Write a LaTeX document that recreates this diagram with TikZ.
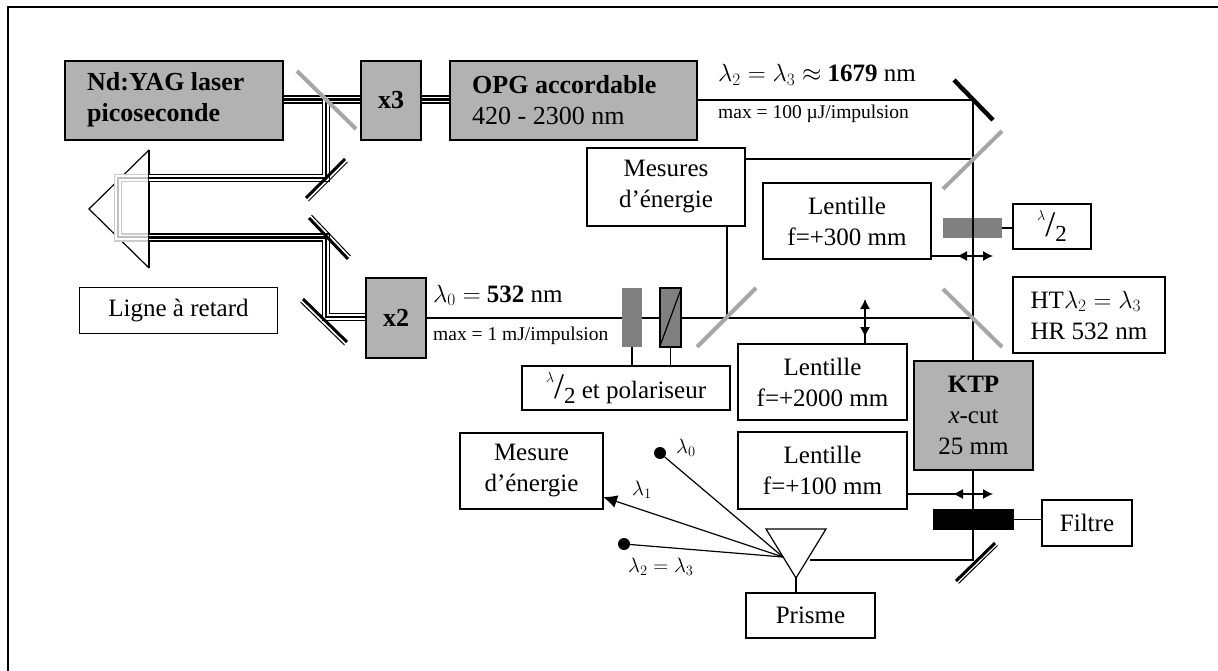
\documentclass[tikz,border=0pt]{standalone}
\usepackage{fontspec}
\setmainfont{Liberation Serif}
\usepackage{tikz}
\usetikzlibrary{arrows.meta}
\newcommand{\lamhalf}{\raisebox{0.62em}{\fontsize{14}{14}\selectfont$\lambda$}{\fontsize{36}{36}\selectfont/}\raisebox{-0.22em}{\fontsize{23}{23}\selectfont 2}}
\newcommand{\mirror}[4]{% ends, then side of the thin line
  \draw[line width=3pt] (#1) -- (#2);
  \draw[line width=1pt, shift={(#3,#4)}] (#1) -- (#2);}

\begin{document}
\begin{tikzpicture}[
  x=1pt, y=-1pt,
  font=\fontsize{25}{31}\selectfont,
  txt/.style   ={inner sep=0pt, align=left, anchor=base west},
  bigtxt/.style={inner sep=0pt, align=left, anchor=west, font=\fontsize{26}{31}\selectfont},
  box/.style   ={draw, line width=1.2pt, align=center, inner sep=0pt},
  grey/.style  ={box, fill=black!30},
  beam/.style  ={line width=2.2pt, preaction={draw, line width=8.6pt}, preaction={draw, white, line width=5.2pt}},
  ghost/.style ={black!25, line width=2pt, preaction={draw, line width=8.6pt, black!20}, preaction={draw, white, line width=5.2pt}},
  ray/.style   ={line width=1.2pt},
  split/.style ={black!35, line width=4pt},
  both/.style  ={{Latex[length=10pt,width=10pt]}-{Latex[length=10pt,width=10pt]}, line width=1.2pt},
  dotend/.style={circle, fill=black, inner sep=0pt, minimum size=12pt},
  small/.style ={font=\fontsize{19.5}{22}\selectfont},
  lam/.style   ={font=\fontsize{22}{26}\selectfont}
]
\useasboundingbox (0,0) rectangle (1218,671);
\draw[line width=2.2pt] (8,671) -- (8,7) -- (1218,7);

% ---- sources ----
\node[grey, minimum width=218pt, minimum height=79pt] (yag) at (174,100.5) {};
\node[bigtxt, font=\fontsize{26}{31}\selectfont\bfseries] (yagtxt) at (87,100) {Nd:YAG laser\\picoseconde};
\node[grey, minimum width=60pt, minimum height=79pt, font=\fontsize{26}{31}\selectfont] (xtrois) at (391,100.5) {\textbf{x3}};
\node[grey, minimum width=247pt, minimum height=79pt] (opg) at (573.5,100.5) {};
\node[bigtxt] (opgtxt) at (472,100) {\textbf{OPG accordable}\\420 - 2300 nm};
\node[grey, minimum width=60pt, minimum height=80pt, font=\fontsize{26}{31}\selectfont] (xdeux) at (396,318) {\textbf{x2}};
\node[grey, minimum width=119pt, minimum height=109pt, align=center] (ktp) at (973.5,415.5) {\textbf{KTP}\\\textit{x}-cut\\25 mm};

% ---- white boxes ----
\node[box, minimum width=198pt, minimum height=46pt] (retard) at (178.5,310.5) {Ligne à retard};
\node[box, minimum width=158pt, minimum height=78pt] (mesures) at (666,187) {Mesures\\d’énergie};
\node[box, minimum width=168pt, minimum height=76pt] (lenttrois) at (847,221) {Lentille\\f=+300 mm};
\node[box, minimum width=78pt, minimum height=45pt] (lamdemi) at (1052,226.5) {\lamhalf};
\node[box, minimum width=152pt, minimum height=76pt, align=left] (httxt) at (1089,315) {HT$\lambda_2=\lambda_3$\\HR 532 nm};
\node[box, minimum width=169pt, minimum height=76pt] (lentdeux) at (822.5,382) {Lentille\\f=+2000 mm};
\node[box, minimum width=169pt, minimum height=77pt] (lentcent) at (822.5,470.5) {Lentille\\f=+100 mm};
\node[box, minimum width=208pt, minimum height=44pt] (polar) at (626,388) {\lamhalf{} et polariseur};
\node[box, minimum width=143pt, minimum height=76pt] (mesure) at (531.5,471) {Mesure\\d’énergie};
\node[box, minimum width=90pt, minimum height=46pt] (filtre) at (1087,523) {Filtre};
\node[box, minimum width=129pt, minimum height=45pt] (prisme) at (810.5,615.5) {Prisme};

% ---- retro prism and picosecond beams ----
\node[coordinate] (pa) at (149,150) {};
\node[coordinate] (pb) at (89,209) {};
\node[coordinate] (pc) at (149,268) {};
\draw[ray] (pa) -- (pb) -- (pc);
\draw[ghost] (149,178) -- (118,178) -- (118,237.5) -- (149,237.5);
\draw[line width=1.4pt] (pc) -- (pa);
\coordinate (bsa) at (326,99.5);
\coordinate (mb) at (326,178);
\coordinate (mc) at (326,237.5);
\coordinate (md) at (326,317);
\draw[beam] (yag.east |- bsa) -- (xtrois.west |- bsa);
\draw[beam] (xtrois.east |- bsa) -- (opg.west |- bsa);
\draw[beam] (bsa) -- (mb) -- (pa |- mb);
\draw[beam] (pa |- mc) -- (mc) -- (md) -- (xdeux.west |- md);
\draw[split] (297,71) -- (356,129);
\mirror{306,198}{345,159}{2.5}{3}
\mirror{309,218}{348,259}{2.5}{-3}
\mirror{303,299}{347,342}{-2.5}{3}

% ---- main optical path ----
\coordinate (mtop) at (973,100);
\coordinate (mbot) at (973,560);
\draw[ray] (opg.east |- mtop) -- (mtop) -- (ktp.north -| mtop);
\draw[ray] (xdeux.east |- 0,318) -- (973,318);
\draw[ray] (mesures.east |- 0,159) -- (973,159);
\draw[ray] (727,226) -- (727,318);
\draw[ray] (ktp.south -| mbot) -- (mbot) -- (810,560);
\draw[split] (1002,131) -- (943,189);
\draw[split] (756,288) -- (697,347);
\draw[split] (943,289) -- (1002,347);
\draw[line width=4.4pt] (954,80) -- (993,120);
\mirror{956,581}{995,543}{2.5}{2.5}

% ---- plates ----
\node[fill=black!50, minimum width=59pt, minimum height=20pt, inner sep=0pt] (plaque) at (972.5,228) {};
\draw[ray] (plaque.east) -- (plaque.east -| lamdemi.west);
\draw[ray] (973,218) -- (973,238);
\node[fill=black, minimum width=81pt, minimum height=21pt, inner sep=0pt] (filtreb) at (973.5,519.5) {};
\draw[ray] (filtreb.east) -- (filtreb.east -| filtre.west);
\node[fill=black!50, minimum width=20pt, minimum height=59pt, inner sep=0pt] (lame) at (632,317.5) {};
\node[draw, line width=1.2pt, fill=black!50, minimum width=21pt, minimum height=59pt, inner sep=0pt] (pol) at (670.5,317.5) {};
\draw[ray] (pol.south west) -- (pol.north east);
\draw[ray] (lame.south) -- (lame.south |- polar.north);
\draw[ray] (pol.south) -- (pol.south |- polar.north);

% ---- lens mounts ----
\draw[ray] (lenttrois.east |- 0,256) -- (960,256);
\draw[both] (957,256) -- (993,256);
\draw[ray] (lentdeux.north -| 865,0) -- (865,320);
\draw[both] (865,299) -- (865,337);
\draw[ray] (lentcent.east |- 0,494) -- (960,494);
\draw[both] (953,494) -- (993,494);

% ---- dispersing prism ----
\coordinate (pr) at (783,557);
\node[coordinate] (pd) at (766,529) {};
\node[coordinate] (pe) at (826,529) {};
\node[coordinate] (pf) at (796,578) {};
\draw[ray] (pd) -- (pe) -- (pf) -- cycle;
\draw[ray] (pf) -- (pf |- prisme.north);
\node[dotend] (dotzero) at (660,453) {};
\node[dotend] (dotdeux) at (624,544) {};
\draw[ray] (pr) -- (dotzero);
\draw[ray] (pr) -- (dotdeux);
\draw[ray, -{Latex[length=14pt,width=13pt]}] (pr) -- (603,497);

% ---- labels ----
\node[txt] (lab23) at (718,82) {$\lambda_2=\lambda_3\approx$ \textbf{1679} nm};
\node[txt, small] (labmax) at (718,119) {max = 100 µJ/impulsion};
\node[txt] (lab0) at (433,302) {$\lambda_0=$ \textbf{532} nm};
\node[txt, small] (labmaxb) at (433,340) {max = 1 mJ/impulsion};
\node[txt, lam] (lamzero) at (676,453) {$\lambda_0$};
\node[txt, lam] (lamun) at (632,495) {$\lambda_1$};
\node[txt, lam] (lamdd) at (628,572) {$\lambda_2=\lambda_3$};
\end{tikzpicture}
\end{document}
